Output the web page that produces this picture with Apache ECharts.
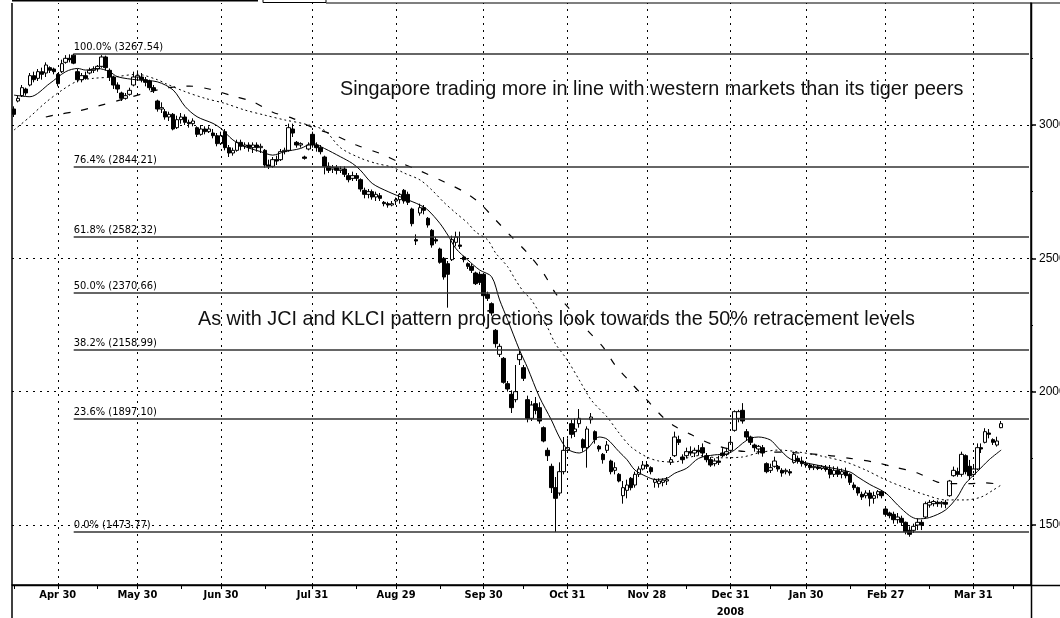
<!DOCTYPE html>
<html><head><meta charset="utf-8">
<script src="https://cdn.jsdelivr.net/npm/echarts@6/dist/echarts.min.js"></script>
<style>html,body{margin:0;padding:0;background:#fff}#c{width:1060px;height:618px}</style>
</head><body><div id="c"></div>
<script>
// ---------- data ----------
const HOLIDAYS = ['2008-05-01','2008-05-19','2008-10-01','2008-10-27','2008-12-08','2008-12-25',
  '2009-01-01','2009-01-26','2009-01-27','2009-04-10'];
const START_DATE = '2008-04-15';
const CATEGORY_COUNT = 256;
const TICK_LABELS = [['2008-04-30','Apr 30'],['2008-05-30','May 30'],['2008-06-30','Jun 30'],['2008-07-31','Jul 31'],
  ['2008-08-29','Aug 29'],['2008-09-30','Sep 30'],['2008-10-31','Oct 31'],['2008-11-28','Nov 28'],
  ['2008-12-31','Dec 31\n2008'],['2009-01-30','Jan 30'],['2009-02-27','Feb 27'],['2009-03-31','Mar 31']];
const MID_TICKS = ['2008-04-15','2008-05-15','2008-06-16','2008-07-15','2008-08-15','2008-09-15','2008-10-15',
  '2008-11-14','2008-12-15','2009-01-15','2009-02-16','2009-03-16','2009-04-15'];

// [open, close, low, high]
const ohlc = [
[3060,3040,3030,3070],[3090,3100,3085,3110],[3110,3140,3105,3150],[3135,3120,3110,3140],[3150,3185,3145,3195],
[3185,3170,3160,3200],[3175,3200,3165,3210],[3200,3190,3170,3215],[3195,3225,3180,3235],[3215,3205,3195,3220],
[3210,3200,3190,3215],[3190,3155,3145,3195],[3200,3230,3195,3245],[3235,3250,3230,3262],[3250,3245,3235,3265],
[3262,3232,3228,3267.54],[3200,3170,3160,3210],[3170,3185,3160,3195],[3185,3175,3170,3200],[3195,3205,3190,3215],
[3205,3210,3195,3220],[3210,3220,3200,3225],[3220,3255,3215,3262],[3255,3215,3205,3260],[3205,3180,3165,3212],
[3180,3150,3135,3185],[3150,3135,3120,3160],[3120,3100,3090,3125],[3100,3110,3095,3120],[3115,3130,3110,3140],
[3150,3180,3145,3200],[3180,3185,3165,3205],[3180,3170,3160,3195],[3170,3160,3145,3180],[3165,3140,3130,3170],
[3140,3130,3120,3150],[3090,3060,3050,3095],[3060,3065,3045,3085],[3050,3030,3020,3060],[3030,3040,3015,3050],
[3040,2985,2980,3045],[2990,3020,2985,3035],[3020,3030,3005,3045],[3030,3010,3000,3040],[3010,3005,2990,3020],
[3005,3015,2995,3025],[2990,2965,2955,2995],[2965,2985,2960,3000],[2985,2975,2965,2995],[2975,2985,2970,2995],
[2970,2960,2950,2985],[2960,2930,2920,2970],[2930,2960,2925,2975],[2975,2915,2905,2985],[2915,2895,2880,2925],
[2895,2905,2885,2915],[2905,2935,2900,2945],[2935,2920,2905,2945],[2920,2925,2910,2935],[2925,2915,2900,2935],
[2915,2925,2895,2935],[2925,2915,2900,2935],[2915,2920,2895,2930],[2905,2850,2840,2910],[2850,2845,2835,2870],
[2845,2870,2840,2880],[2870,2865,2850,2885],[2870,2900,2865,2910],[2900,2905,2890,2915],[2905,2990,2900,3005],
[2985,2970,2955,3005],[2935,2925,2915,2940],[2925,2930,2915,2935],[2880,2875,2870,2885],[2910,2925,2905,2935],
[2965,2925,2915,2975],[2925,2915,2900,2935],[2915,2900,2890,2925],[2880,2845,2815,2885],[2845,2830,2820,2860],
[2835,2840,2820,2850],[2840,2830,2815,2850],[2830,2835,2820,2845],[2835,2815,2805,2845],[2810,2795,2785,2820],
[2800,2810,2790,2825],[2810,2800,2790,2820],[2795,2760,2750,2800],[2755,2740,2725,2765],[2740,2750,2725,2760],
[2750,2730,2720,2758],[2730,2740,2715,2750],[2735,2725,2715,2745],[2710,2705,2695,2715],[2705,2700,2690,2712],
[2700,2705,2695,2715],[2715,2720,2700,2728],[2720,2740,2705,2745],[2755,2715,2705,2760],[2740,2710,2700,2750],
[2685,2630,2620,2690],[2570,2565,2550,2590],[2670,2690,2660,2705],[2690,2680,2665,2700],[2650,2625,2615,2655],
[2605,2550,2540,2610],[2570,2565,2555,2580],[2535,2485,2480,2540],[2500,2430,2420,2505],[2480,2440,2315,2490],
[2495,2570,2490,2585],[2560,2580,2545,2600],[2550,2545,2535,2600],[2505,2495,2485,2510],[2480,2470,2460,2485],
[2470,2455,2445,2480],[2445,2405,2400,2450],[2440,2410,2400,2450],[2440,2360,2245,2445],[2365,2350,2340,2375],
[2330,2295,2285,2335],[2230,2180,2165,2235],[2140,2170,2130,2180],[2125,2035,2030,2130],[2030,2010,2000,2040],
[1990,1940,1920,2005],[1970,2000,1960,2100],[2120,2140,2100,2160],[2090,2050,2040,2100],[1970,1900,1885,1985],
[1900,1950,1890,1965],[1955,1930,1915,1980],[1940,1890,1880,1960],[1865,1815,1810,1870],[1780,1760,1740,1790],
[1720,1640,1620,1730],[1640,1600,1473.77,1680],[1620,1700,1610,1735],[1700,1780,1690,1830],[1780,1790,1770,1825],
[1880,1840,1825,1895],[1850,1860,1830,1900],[1880,1900,1865,1935],[1820,1790,1775,1825],[1790,1860,1715,1870],
[1895,1905,1880,1920],[1850,1820,1805,1855],[1795,1785,1775,1800],[1765,1745,1730,1770],[1780,1800,1770,1815],
[1740,1700,1690,1745],[1705,1715,1690,1735],[1690,1665,1660,1695],[1610,1640,1580,1665],[1630,1650,1600,1670],
[1675,1640,1630,1680],[1650,1690,1640,1700],[1690,1710,1680,1720],[1710,1725,1705,1740],[1725,1720,1710,1740],
[1715,1700,1690,1720],[1660,1670,1640,1675],[1655,1665,1640,1675],[1660,1668,1645,1675],[1665,1670,1650,1680],
[1735,1745,1725,1755],[1760,1830,1755,1850],[1820,1810,1800,1835],[1755,1745,1730,1765],[1760,1775,1750,1790],
[1775,1770,1760,1795],[1770,1780,1755,1790],[1780,1775,1760,1800],[1790,1770,1755,1806],[1760,1745,1735,1770],
[1745,1725,1718,1755],[1730,1740,1720,1750],[1740,1735,1725,1760],[1770,1760,1755,1788],[1765,1775,1758,1785],
[1780,1810,1770,1830],[1855,1925,1850,1930],[1900,1925,1885,1932],[1930,1890,1880,1957],[1850,1830,1815,1860],
[1830,1810,1800,1835],[1800,1790,1775,1805],[1785,1795,1765,1800],[1790,1770,1756,1800],[1730,1700,1694,1735],
[1705,1715,1695,1730],[1720,1740,1715,1756],[1720,1710,1700,1725],[1705,1695,1681,1713],[1700,1705,1690,1712],
[1700,1695,1685,1710],[1735,1765,1730,1775],[1750,1740,1730,1760],[1740,1730,1719,1756],[1730,1725,1715,1740],
[1725,1715,1706,1731],[1715,1720,1706,1728],[1718,1712,1706,1725],[1712,1718,1706,1725],[1715,1708,1700,1725],
[1710,1690,1675,1725],[1690,1705,1680,1720],[1705,1690,1680,1719],[1690,1700,1675,1712],[1700,1685,1675,1715],
[1690,1660,1650,1694],[1650,1640,1631,1660],[1640,1620,1610,1644],[1615,1605,1594,1625],[1610,1620,1600,1630],
[1620,1600,1570,1631],[1600,1610,1580,1625],[1615,1625,1600,1631],[1625,1610,1600,1631],[1560,1540,1531,1563],
[1545,1535,1525,1550],[1540,1520,1505,1550],[1520,1530,1505,1545],[1525,1510,1500,1535],[1510,1475,1465,1513],
[1480,1465,1456,1495],[1480,1495,1470,1505],[1500,1510,1481,1525],[1510,1500,1481,1520],[1530,1580,1525,1588],
[1575,1585,1565,1594],[1580,1588,1570,1594],[1585,1580,1568,1592],[1580,1585,1565,1590],[1585,1578,1563,1594],
[1610,1665,1606,1669],[1685,1705,1681,1719],[1700,1690,1681,1715],[1690,1765,1681,1775],[1760,1700,1690,1765],
[1720,1685,1669,1744],[1690,1710,1680,1725],[1710,1790,1706,1806],[1790,1785,1770,1806],[1810,1850,1806,1863],
[1845,1840,1825,1860],[1820,1810,1800,1825],[1800,1815,1794,1831],[1865,1880,1863,1890]
];

// moving averages: [day index, value]
const maShort = [[0,3112],[4,3106],[9,3156],[13,3200],[16,3212],[18,3206],[21,3212],[24,3200],[26,3181],[31,3169],
[36,3162],[40,3131],[43,3069],[46,3031],[50,3006],[52,2987],[55,2944],[58,2919],[62,2900],[65,2887],[68,2900],
[72,2912],[75,2931],[78,2912],[82,2881],[85,2856],[87,2831],[90,2781],[94,2750],[98,2725],[102,2700],[104,2681],
[107,2631],[109,2587],[111,2537],[114,2494],[117,2456],[120,2431],[122,2344],[124,2270],[127,2156],[129,2090],
[132,1980],[135,1894],[137,1830],[139,1785],[142,1770],[144,1785],[147,1830],[149,1822],[152,1775],[154,1745],
[156,1706],[159,1681],[161,1671],[164,1675],[166,1694],[169,1713],[172,1750],[176,1763],[179,1766],[181,1781],
[183,1806],[185,1825],[187,1830],[190,1819],[192,1789],[195,1748],[199,1733],[204,1718],[210,1699],[212,1680],
[215,1652],[219,1620],[222,1575],[225,1535],[227,1523],[230,1528],[234,1556],[237,1605],[239,1655],[242,1700],
[245,1745],[248,1781]];
const maMid = [[0,2981],[4,3031],[8,3085],[12,3130],[16,3165],[20,3175],[25,3180],[31,3190],[36,3170],[38,3156],
[43,3125],[48,3100],[53,3081],[58,3056],[63,3037],[68,3019],[73,3004],[78,2980],[82,2915],[87,2876],[91,2856],
[95,2842],[98,2820],[102,2794],[105,2756],[108,2710],[111,2670],[114,2632],[116,2599],[119,2569],[121,2520],
[124,2469],[126,2419],[128,2375],[130,2344],[134,2242],[136,2180],[139,2119],[142,2044],[145,1969],[149,1905],
[152,1845],[155,1793],[159,1755],[162,1740],[166,1736],[169,1751],[172,1760],[177,1752],[183,1755],[187,1770],
[192,1781],[197,1774],[204,1755],[209,1736],[214,1706],[219,1669],[224,1639],[229,1613],[234,1594],[239,1594],
[243,1605],[246,1631],[248,1650]];
const maLong = [[8,3030],[10,3037],[16,3052],[21,3071],[27,3095],[33,3120],[38,3138],[44,3146],[49,3135],[55,3109],
[60,3087],[65,3048],[70,3025],[75,2991],[81,2959],[86,2925],[92,2893],[97,2859],[102,2828],[108,2787],[113,2750],
[117,2707],[121,2644],[125,2581],[129,2520],[133,2445],[136,2370],[139,2320],[144,2231],[148,2167],[151,2100],
[155,2033],[159,1969],[163,1905],[166,1870],[170,1840],[175,1805],[182,1778],[188,1774],[195,1772],[204,1762],
[210,1750],[216,1736],[221,1718],[227,1695],[232,1661],[236,1655],[240,1655],[244,1658],[248,1652]];

const FIB_LEVELS = [['100.0%',3267.54],['76.4%',2844.21],['61.8%',2582.32],['50.0%',2370.66],
  ['38.2%',2158.99],['23.6%',1897.10],['0.0%',1473.77]];
const FIB_START = 15;
const Y_LABELS = [1500,2000,2500,3000];
const Y_MINOR = [1500,1750,2000,2250,2500,2750,3000,3250];
const GRID_Y = [1500,2000,2500,3000];
const Y_MIN = 1275, Y_MAX = 3457.5;
const NOTE_TOP = 'Singapore trading more in line with western markets than its tiger peers';
const NOTE_MID = 'As with JCI and KLCI pattern projections look towards the 50% retracement levels';

// ---------- build ----------
function tradingDays(start, n, holidays) {
  const out = [], hs = new Set(holidays);
  const d = new Date(start + 'T00:00:00Z');
  while (out.length < n) {
    const wd = d.getUTCDay(), s = d.toISOString().slice(0, 10);
    if (wd !== 0 && wd !== 6 && !hs.has(s)) out.push(s);
    d.setUTCDate(d.getUTCDate() + 1);
  }
  return out;
}
const cats = tradingDays(START_DATE, CATEGORY_COUNT, HOLIDAYS);
const labelMap = new Map(TICK_LABELS);
const tickSet = new Set([...TICK_LABELS.map(t => t[0]), ...MID_TICKS]);
const last = cats.length - 1;

const NARROW = "'Liberation Sans Narrow','Arial Narrow','DejaVu Sans Condensed',sans-serif";
const SANS = "'Liberation Sans',Arial,sans-serif";

const chart = echarts.init(document.getElementById('c'), null, {renderer: 'canvas'});
chart.setOption({
  animation: false,
  backgroundColor: '#fff',
  grid: {left: 12, right: 29, top: 3, bottom: 33, containLabel: false, outerBoundsMode: 'none'},
  xAxis: {
    type: 'category', data: cats, boundaryGap: true,
    axisLine: {show: true, lineStyle: {color: '#000', width: 1.5}},
    axisTick: {show: true, alignWithLabel: true, length: 4, lineStyle: {color: '#000'},
      interval: (i, v) => tickSet.has(v)},
    axisLabel: {show: true, interval: (i, v) => labelMap.has(v), formatter: v => labelMap.get(v) || '',
      color: '#000', fontFamily: NARROW, fontSize: 11, fontWeight: 'bold', margin: 2, lineHeight: 17,
      hideOverlap: false},
    splitLine: {show: false}
  },
  yAxis: [{
    type: 'value', position: 'right', min: Y_MIN, max: Y_MAX,
    axisLine: {show: true, lineStyle: {color: '#000', width: 1.5}},
    axisTick: {show: true, customValues: Y_LABELS, length: 5, lineStyle: {color: '#000', width: 1.5}},
    axisLabel: {show: true, customValues: Y_LABELS, formatter: v => String(v), color: '#000',
      fontFamily: SANS, fontSize: 12, margin: 8, hideOverlap: false},
    splitLine: {show: false}
  }, {
    type: 'value', position: 'right', min: Y_MIN, max: Y_MAX,
    axisLine: {show: false},
    axisTick: {show: true, customValues: Y_MINOR, length: 2, lineStyle: {color: '#000'}},
    axisLabel: {show: false},
    splitLine: {show: false}
  }],
  series: [
    {
      type: 'line', data: [], silent: true, z: 1,
      markLine: {
        silent: true, symbol: ['none', 'none'], animation: false,
        label: {show: false},
        lineStyle: {color: '#000', type: [2, 5], width: 1},
        data: [
          ...GRID_Y.map(v => ({yAxis: v})),
          ...TICK_LABELS.map(t => ({xAxis: cats.indexOf(t[0])}))
        ]
      }
    },
    {
      type: 'candlestick', data: ohlc, barWidth: 4, z: 3,
      itemStyle: {color: '#fff', color0: '#000', borderColor: '#000', borderColor0: '#000', borderWidth: 1},
      markLine: {
        silent: true, symbol: ['none', 'none'], animation: false,
        lineStyle: {color: '#333', type: 'solid', width: 1.5},
        label: {show: true, position: 'insideStartTop', formatter: '{b}', distance: [0, 1],
          color: '#000', fontFamily: NARROW, fontSize: 11},
        data: FIB_LEVELS.map(([p, v]) => [
          {name: p + ' (' + v.toFixed(2) + ')', coord: [FIB_START, v]},
          {coord: [last, v]}
        ])
      }
    },
    {type: 'line', name: 'short', data: maShort, showSymbol: false, smooth: 0.3, z: 4,
      lineStyle: {color: '#000', width: 1, type: 'solid'}},
    {type: 'line', name: 'mid', data: maMid, showSymbol: false, smooth: 0.3, z: 4,
      lineStyle: {color: '#000', width: 1, type: [2, 3]}},
    {type: 'line', name: 'long', data: maLong, showSymbol: false, smooth: 0.3, z: 4,
      lineStyle: {color: '#000', width: 1.2, type: [7, 11]}}
  ],
  graphic: [
    {type: 'line', shape: {x1: 12, y1: 618, x2: 12, y2: 3}, style: {stroke: '#000', lineWidth: 1.5}, z: 10},
    {type: 'line', shape: {x1: 1031.5, y1: 618, x2: 1031.5, y2: 3}, style: {stroke: '#000', lineWidth: 1.5}, z: 10},
    {type: 'line', shape: {x1: 12, y1: 585.5, x2: 1060, y2: 585.5}, style: {stroke: '#000', lineWidth: 1.5}, z: 10},
    {type: 'line', shape: {x1: 326, y1: 3, x2: 1060, y2: 3}, style: {stroke: '#000', lineWidth: 1.2}, z: 10},
    {type: 'line', shape: {x1: 12, y1: 0.8, x2: 258, y2: 0.8}, style: {stroke: '#000', lineWidth: 1.6}, z: 10},
    {type: 'rect', shape: {x: 263, y: -1, width: 63, height: 3.5}, style: {fill: 'none', stroke: '#000', lineWidth: 1}, z: 10},
    {type: 'text', left: 340, top: 80, style: {text: NOTE_TOP, fill: '#111', font: '19.8px ' + SANS}, z: 10},
    {type: 'text', left: 198, top: 310, style: {text: NOTE_MID, fill: '#111', font: '19.8px ' + SANS}, z: 10}
  ]
});
</script></body></html>
